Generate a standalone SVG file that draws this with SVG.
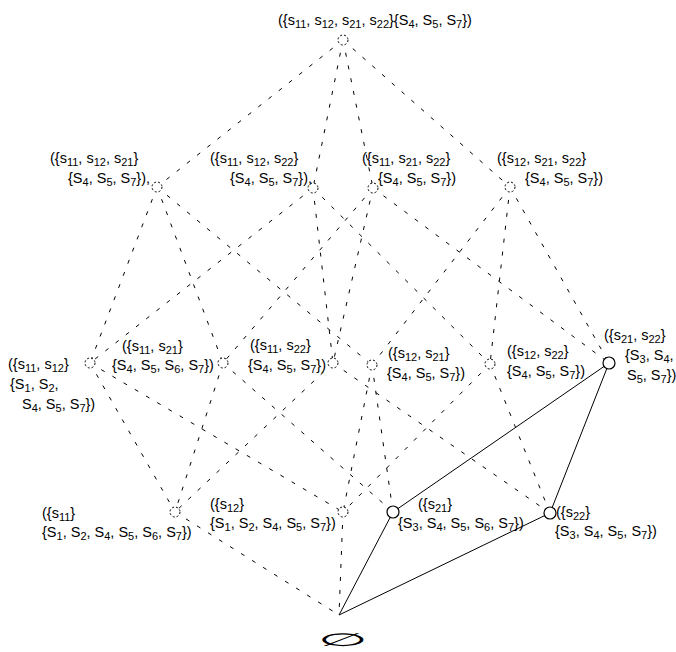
<svg xmlns="http://www.w3.org/2000/svg" width="676" height="652" viewBox="0 0 676 652">
<style>
text{font-family:"Liberation Sans",Arial,sans-serif;font-size:14.5px;fill:#000}
.b{font-size:11px}
.d{stroke:#000;stroke-width:1;stroke-dasharray:4,9;fill:none}
.s{stroke:#000;stroke-width:1;fill:none}
.dn{stroke:#000;stroke-width:1;stroke-dasharray:2,2;fill:#fff}
.sn{stroke:#000;stroke-width:1.2;fill:#fff}
</style>
<rect width="676" height="652" fill="#fff"/>
<g id="connectors">
<line class="d" x1="343" y1="40" x2="157" y2="187"/>
<line class="d" x1="343" y1="40" x2="313" y2="188"/>
<line class="d" x1="343" y1="40" x2="373" y2="188"/>
<line class="d" x1="343" y1="40" x2="510" y2="187"/>
<line class="d" x1="157" y1="187" x2="90" y2="363"/>
<line class="d" x1="157" y1="187" x2="223" y2="363"/>
<line class="d" x1="157" y1="187" x2="372" y2="365"/>
<line class="d" x1="313" y1="188" x2="90" y2="363"/>
<line class="d" x1="313" y1="188" x2="333" y2="363"/>
<line class="d" x1="313" y1="188" x2="490" y2="364"/>
<line class="d" x1="373" y1="188" x2="223" y2="363"/>
<line class="d" x1="373" y1="188" x2="333" y2="363"/>
<line class="d" x1="373" y1="188" x2="609" y2="363"/>
<line class="d" x1="510" y1="187" x2="372" y2="365"/>
<line class="d" x1="510" y1="187" x2="490" y2="364"/>
<line class="d" x1="510" y1="187" x2="609" y2="363"/>
<line class="d" x1="90" y1="363" x2="175" y2="512"/>
<line class="d" x1="90" y1="363" x2="343" y2="512"/>
<line class="d" x1="223" y1="363" x2="175" y2="512"/>
<line class="d" x1="223" y1="363" x2="393" y2="512"/>
<line class="d" x1="333" y1="363" x2="175" y2="512"/>
<line class="d" x1="333" y1="363" x2="550" y2="513"/>
<line class="d" x1="372" y1="365" x2="343" y2="512"/>
<line class="d" x1="372" y1="365" x2="393" y2="512"/>
<line class="d" x1="490" y1="364" x2="343" y2="512"/>
<line class="d" x1="490" y1="364" x2="550" y2="513"/>
<line class="d" x1="175" y1="512" x2="339" y2="615"/>
<line class="d" x1="343" y1="512" x2="339" y2="615"/>
<line class="s" x1="609" y1="363" x2="393" y2="512"/>
<line class="s" x1="609" y1="363" x2="550" y2="513"/>
<line class="s" x1="393" y1="512" x2="339" y2="615"/>
<line class="s" x1="550" y1="513" x2="339" y2="615"/>
</g>
<g id="n-top"><circle class="dn" cx="343" cy="40" r="5"/>
<text x="278" y="25">({s<tspan class="b" dy="3">11</tspan><tspan dy="-3">, s</tspan><tspan class="b" dy="3">12</tspan><tspan dy="-3">, s</tspan><tspan class="b" dy="3">21</tspan><tspan dy="-3">, s</tspan><tspan class="b" dy="3">22</tspan><tspan dy="-3">}{S</tspan><tspan class="b" dy="3">4</tspan><tspan dy="-3">, S</tspan><tspan class="b" dy="3">5</tspan><tspan dy="-3">, S</tspan><tspan class="b" dy="3">7</tspan><tspan dy="-3">})</tspan></text></g>
<g id="n-s11s12s21"><circle class="dn" cx="157" cy="187" r="5"/>
<text x="50" y="163">({s<tspan class="b" dy="3">11</tspan><tspan dy="-3">, s</tspan><tspan class="b" dy="3">12</tspan><tspan dy="-3">, s</tspan><tspan class="b" dy="3">21</tspan><tspan dy="-3">}</tspan></text>
<text x="68" y="183">{S<tspan class="b" dy="3">4</tspan><tspan dy="-3">, S</tspan><tspan class="b" dy="3">5</tspan><tspan dy="-3">, S</tspan><tspan class="b" dy="3">7</tspan><tspan dy="-3">}),</tspan></text></g>
<g id="n-s11s12s22"><circle class="dn" cx="313" cy="188" r="5"/>
<text x="210" y="163">({s<tspan class="b" dy="3">11</tspan><tspan dy="-3">, s</tspan><tspan class="b" dy="3">12</tspan><tspan dy="-3">, s</tspan><tspan class="b" dy="3">22</tspan><tspan dy="-3">}</tspan></text>
<text x="230" y="183">{S<tspan class="b" dy="3">4</tspan><tspan dy="-3">, S</tspan><tspan class="b" dy="3">5</tspan><tspan dy="-3">, S</tspan><tspan class="b" dy="3">7</tspan><tspan dy="-3">}),</tspan></text></g>
<g id="n-s11s21s22"><circle class="dn" cx="373" cy="188" r="5"/>
<text x="362" y="163">({s<tspan class="b" dy="3">11</tspan><tspan dy="-3">, s</tspan><tspan class="b" dy="3">21</tspan><tspan dy="-3">, s</tspan><tspan class="b" dy="3">22</tspan><tspan dy="-3">}</tspan></text>
<text x="378" y="183">{S<tspan class="b" dy="3">4</tspan><tspan dy="-3">, S</tspan><tspan class="b" dy="3">5</tspan><tspan dy="-3">, S</tspan><tspan class="b" dy="3">7</tspan><tspan dy="-3">})</tspan></text></g>
<g id="n-s12s21s22"><circle class="dn" cx="510" cy="187" r="5"/>
<text x="497" y="163">({s<tspan class="b" dy="3">12</tspan><tspan dy="-3">, s</tspan><tspan class="b" dy="3">21</tspan><tspan dy="-3">, s</tspan><tspan class="b" dy="3">22</tspan><tspan dy="-3">}</tspan></text>
<text x="525" y="183">{S<tspan class="b" dy="3">4</tspan><tspan dy="-3">, S</tspan><tspan class="b" dy="3">5</tspan><tspan dy="-3">, S</tspan><tspan class="b" dy="3">7</tspan><tspan dy="-3">})</tspan></text></g>
<g id="n-s11s12"><circle class="dn" cx="90" cy="363" r="5"/>
<text x="8" y="369">({s<tspan class="b" dy="3">11</tspan><tspan dy="-3">, s</tspan><tspan class="b" dy="3">12</tspan><tspan dy="-3">}</tspan></text>
<text x="10" y="389">{S<tspan class="b" dy="3">1</tspan><tspan dy="-3">, S</tspan><tspan class="b" dy="3">2</tspan><tspan dy="-3">,</tspan></text>
<text x="22" y="409">S<tspan class="b" dy="3">4</tspan><tspan dy="-3">, S</tspan><tspan class="b" dy="3">5</tspan><tspan dy="-3">, S</tspan><tspan class="b" dy="3">7</tspan><tspan dy="-3">})</tspan></text></g>
<g id="n-s11s21"><circle class="dn" cx="223" cy="363" r="5"/>
<text x="122" y="351">({s<tspan class="b" dy="3">11</tspan><tspan dy="-3">, s</tspan><tspan class="b" dy="3">21</tspan><tspan dy="-3">}</tspan></text>
<text x="112" y="370">{S<tspan class="b" dy="3">4</tspan><tspan dy="-3">, S</tspan><tspan class="b" dy="3">5</tspan><tspan dy="-3">, S</tspan><tspan class="b" dy="3">6</tspan><tspan dy="-3">, S</tspan><tspan class="b" dy="3">7</tspan><tspan dy="-3">})</tspan></text></g>
<g id="n-s11s22"><circle class="dn" cx="333" cy="363" r="5"/>
<text x="250" y="350">({s<tspan class="b" dy="3">11</tspan><tspan dy="-3">, s</tspan><tspan class="b" dy="3">22</tspan><tspan dy="-3">}</tspan></text>
<text x="248" y="370">{S<tspan class="b" dy="3">4</tspan><tspan dy="-3">, S</tspan><tspan class="b" dy="3">5</tspan><tspan dy="-3">, S</tspan><tspan class="b" dy="3">7</tspan><tspan dy="-3">})</tspan></text></g>
<g id="n-s12s21"><circle class="dn" cx="372" cy="365" r="5"/>
<text x="388" y="358">({s<tspan class="b" dy="3">12</tspan><tspan dy="-3">, s</tspan><tspan class="b" dy="3">21</tspan><tspan dy="-3">}</tspan></text>
<text x="387" y="378">{S<tspan class="b" dy="3">4</tspan><tspan dy="-3">, S</tspan><tspan class="b" dy="3">5</tspan><tspan dy="-3">, S</tspan><tspan class="b" dy="3">7</tspan><tspan dy="-3">})</tspan></text></g>
<g id="n-s12s22"><circle class="dn" cx="490" cy="364" r="5"/>
<text x="507" y="356">({s<tspan class="b" dy="3">12</tspan><tspan dy="-3">, s</tspan><tspan class="b" dy="3">22</tspan><tspan dy="-3">}</tspan></text>
<text x="507" y="376">{S<tspan class="b" dy="3">4</tspan><tspan dy="-3">, S</tspan><tspan class="b" dy="3">5</tspan><tspan dy="-3">, S</tspan><tspan class="b" dy="3">7</tspan><tspan dy="-3">})</tspan></text></g>
<g id="n-s21s22"><circle class="sn" cx="609" cy="363" r="6"/>
<text x="604" y="340">({s<tspan class="b" dy="3">21</tspan><tspan dy="-3">, s</tspan><tspan class="b" dy="3">22</tspan><tspan dy="-3">}</tspan></text>
<text x="625" y="360">{S<tspan class="b" dy="3">3</tspan><tspan dy="-3">, S</tspan><tspan class="b" dy="3">4</tspan><tspan dy="-3">,</tspan></text>
<text x="627" y="380">S<tspan class="b" dy="3">5</tspan><tspan dy="-3">, S</tspan><tspan class="b" dy="3">7</tspan><tspan dy="-3">})</tspan></text></g>
<g id="n-s11"><circle class="dn" cx="175" cy="512" r="5"/>
<text x="42" y="518">({s<tspan class="b" dy="3">11</tspan><tspan dy="-3">}</tspan></text>
<text x="42" y="537">{S<tspan class="b" dy="3">1</tspan><tspan dy="-3">, S</tspan><tspan class="b" dy="3">2</tspan><tspan dy="-3">, S</tspan><tspan class="b" dy="3">4</tspan><tspan dy="-3">, S</tspan><tspan class="b" dy="3">5</tspan><tspan dy="-3">, S</tspan><tspan class="b" dy="3">6</tspan><tspan dy="-3">, S</tspan><tspan class="b" dy="3">7</tspan><tspan dy="-3">})</tspan></text></g>
<g id="n-s12"><circle class="dn" cx="343" cy="512" r="5"/>
<text x="210" y="509">({s<tspan class="b" dy="3">12</tspan><tspan dy="-3">}</tspan></text>
<text x="210" y="528">{S<tspan class="b" dy="3">1</tspan><tspan dy="-3">, S</tspan><tspan class="b" dy="3">2</tspan><tspan dy="-3">, S</tspan><tspan class="b" dy="3">4</tspan><tspan dy="-3">, S</tspan><tspan class="b" dy="3">5</tspan><tspan dy="-3">, S</tspan><tspan class="b" dy="3">7</tspan><tspan dy="-3">})</tspan></text></g>
<g id="n-s21"><circle class="sn" cx="393" cy="512" r="6"/>
<text x="418" y="509">({s<tspan class="b" dy="3">21</tspan><tspan dy="-3">}</tspan></text>
<text x="398" y="528">{S<tspan class="b" dy="3">3</tspan><tspan dy="-3">, S</tspan><tspan class="b" dy="3">4</tspan><tspan dy="-3">, S</tspan><tspan class="b" dy="3">5</tspan><tspan dy="-3">, S</tspan><tspan class="b" dy="3">6</tspan><tspan dy="-3">, S</tspan><tspan class="b" dy="3">7</tspan><tspan dy="-3">})</tspan></text></g>
<g id="n-s22"><circle class="sn" cx="550" cy="513" r="6"/>
<text x="556" y="517">({s<tspan class="b" dy="3">22</tspan><tspan dy="-3">}</tspan></text>
<text x="555" y="536">{S<tspan class="b" dy="3">3</tspan><tspan dy="-3">, S</tspan><tspan class="b" dy="3">4</tspan><tspan dy="-3">, S</tspan><tspan class="b" dy="3">5</tspan><tspan dy="-3">, S</tspan><tspan class="b" dy="3">7</tspan><tspan dy="-3">})</tspan></text></g>
<g id="n-empty">
<text transform="translate(343,646) scale(1.9,0.6)" text-anchor="middle" style="font-family:'DejaVu Sans',sans-serif;font-size:30px;font-weight:200">∅</text></g>
</svg>
